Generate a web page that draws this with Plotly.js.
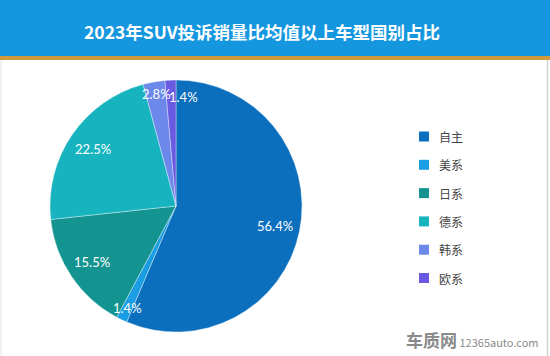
<!DOCTYPE html>
<html><head><meta charset="utf-8">
<script src="https://cdn.plot.ly/plotly-3.0.1.min.js"></script>
<style>html,body{margin:0;padding:0;background:#fff}#chart{width:550px;height:356px}</style>
</head><body><div id="chart"></div>
<script>
const titleText = "2023年SUV投诉销量比均值以上车型国别占比";
const categories = ["自主", "美系", "日系", "德系", "韩系", "欧系"];
const shares = [56.4, 1.4, 15.5, 22.5, 2.8, 1.4];
const colors = ["#0b6fbe", "#1a9de2", "#139491", "#17b4c0", "#6b88ea", "#6a5ae2"];

const W = 550, H = 356;
const cx = 176, cy = 206, R = 126;
const dom = {x: [(cx - R) / W, (cx + R) / W], y: [(H - cy - R) / H, (H - cy + R) / H]};
// pixel nudges for crowded labels (layout only)
const labelNudge = {5: [12, 4]};

const total = shares.reduce((a, b) => a + b, 0);
const annotations = [];
const shapes = [];
let acc = 0;
shares.forEach((v, i) => {
  const mid = (acc + v / 2) / total * 2 * Math.PI;
  acc += v;
  const f = v < 5 ? 0.9 : 0.8;
  const n = labelNudge[i] || [0, 0];
  const sx = cx + f * R * Math.sin(mid) + n[0];
  const sy = cy - f * R * Math.cos(mid) + n[1];
  annotations.push({
    x: sx / W, y: (H - sy) / H, xref: "paper", yref: "paper", xanchor: "center", yanchor: "middle",
    text: v.toFixed(1) + "%", showarrow: false,
    font: {family: "Lato, 'DejaVu Sans', sans-serif", size: 13, color: "#ffffff"}
  });
});

// header
shapes.push({type: "rect", xref: "paper", yref: "paper", x0: 0, x1: 1, y0: 1 - 56 / H, y1: 1, fillcolor: "#1597e0", line: {width: 0}, layer: "below"});
shapes.push({type: "rect", xref: "paper", yref: "paper", x0: 0, x1: 1, y0: 1 - 60 / H, y1: 1 - 56 / H, fillcolor: "#cf9a3c", line: {width: 0}, layer: "below"});
shapes.push({type: "line", xref: "paper", yref: "paper", x0: 547.5 / W, x1: 547.5 / W, y0: 0, y1: 1 - 60 / H, line: {color: "#d3d3d3", width: 1.5}});
shapes.push({type: "line", xref: "paper", yref: "paper", x0: 1 / W, x1: 1 / W, y0: 0, y1: 1 - 60 / H, line: {color: "#e3e3e3", width: 1}});

annotations.push({
  x: 262 / W, y: 1 - 31 / H, xref: "paper", yref: "paper", xanchor: "center", yanchor: "middle", showarrow: false,
  text: "<b>" + titleText + "</b>",
  font: {family: "'Noto Sans CJK SC', sans-serif", size: 17.5, color: "#ffffff"}
});

// legend
const legX = 419, legY0 = 136.5, legStep = 28.3, sq = 10;
categories.forEach((c, i) => {
  const y = legY0 + i * legStep;
  shapes.push({type: "rect", xref: "paper", yref: "paper",
    x0: legX / W, x1: (legX + sq) / W, y0: (H - y - sq / 2) / H, y1: (H - y + sq / 2) / H,
    fillcolor: colors[i], line: {width: 0}});
  annotations.push({x: (legX + sq + 8) / W, y: (H - y) / H, xref: "paper", yref: "paper",
    xanchor: "left", yanchor: "middle", showarrow: false, text: c,
    font: {family: "'Noto Sans CJK SC', sans-serif", size: 12, color: "#444444"}});
});

// watermark
annotations.push({x: 541 / W, y: (H - 339) / H, xref: "paper", yref: "paper", xanchor: "right", yanchor: "middle", showarrow: false,
  text: "<b style='font-size:17px'>车质网</b> 12365auto.com",
  font: {family: "'Noto Sans CJK SC', 'DejaVu Sans', sans-serif", size: 11, color: "#8a8a8a"}});

const trace = {
  type: "pie", labels: categories, values: shares, sort: false, direction: "clockwise", rotation: 0,
  marker: {colors: colors, line: {color: "rgba(255,255,255,0.6)", width: 0.6}},
  textinfo: "none", hoverinfo: "label+percent", domain: dom, showlegend: false
};

Plotly.newPlot("chart", [trace], {
  width: W, height: H, margin: {l: 0, r: 0, t: 0, b: 0},
  paper_bgcolor: "#ffffff", showlegend: false, shapes: shapes, annotations: annotations
}, {staticPlot: true});
</script></body></html>
